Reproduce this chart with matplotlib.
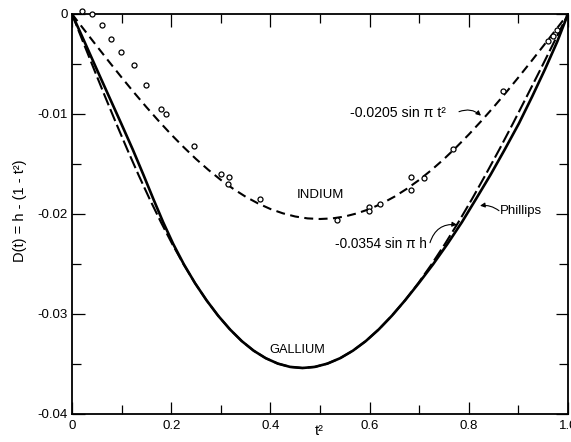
import matplotlib
matplotlib.use('Agg')
import matplotlib.pyplot as plt
from matplotlib.ticker import FixedLocator, FixedFormatter, MultipleLocator

plt.rcParams['font.family'] = ['Liberation Sans', 'DejaVu Sans']
plt.rcParams['axes.unicode_minus'] = False

# ---- data ----
# Indium measured points
ind_pts_x = [0.021, 0.040, 0.060, 0.079, 0.099, 0.124, 0.149, 0.179, 0.189, 0.245,
             0.300, 0.316, 0.315, 0.380, 0.535, 0.599, 0.599, 0.620, 0.683, 0.683,
             0.710, 0.769, 0.869, 0.960, 0.969, 0.978]
ind_pts_y = [0.0003, 0.0000, -0.00107, -0.0025, -0.00384, -0.00507, -0.00707, -0.0095, -0.00997, -0.01324,
             -0.0160, -0.01627, -0.01704, -0.0185, -0.02057, -0.0193, -0.0197, -0.0190, -0.01634, -0.0176,
             -0.0164, -0.0135, -0.00767, -0.00266, -0.0022, -0.0016]

# Indium dashed curve (-0.0205 sin pi t^2)
ind_curve_x = [0.0, 0.025, 0.05, 0.075, 0.1, 0.125, 0.15, 0.175, 0.2, 0.225,
               0.25, 0.275, 0.3, 0.325, 0.35, 0.375, 0.4, 0.425, 0.45, 0.475,
               0.5, 0.525, 0.55, 0.575, 0.6, 0.625, 0.65, 0.675, 0.7, 0.725,
               0.75, 0.775, 0.8, 0.825, 0.85, 0.875, 0.9, 0.925, 0.95, 0.975, 1.0]
ind_curve_y = [0.0, -0.00161, -0.00321, -0.00479, -0.00634, -0.00785, -0.00931, -0.01071, -0.01205, -0.01331,
               -0.01450, -0.01559, -0.01659, -0.01748, -0.01827, -0.01894, -0.01950, -0.01993, -0.02025, -0.02044,
               -0.02050, -0.02044, -0.02025, -0.01993, -0.01950, -0.01894, -0.01827, -0.01748, -0.01659, -0.01559,
               -0.01450, -0.01331, -0.01205, -0.01071, -0.00931, -0.00785, -0.00634, -0.00479, -0.00321, -0.00161, 0.0]

# Gallium curves: D values shared, x for dashed (-0.0354 sin pi h) and solid (Phillips)
gal_D = [0.0, -0.00278, -0.00554, -0.00826, -0.01094, -0.01355, -0.01607, -0.01850, -0.02081, -0.02299,
         -0.02503, -0.02692, -0.02864, -0.03018, -0.03154, -0.03271, -0.03367, -0.03442, -0.03496, -0.03529,
         -0.03540, -0.03529, -0.03496, -0.03442, -0.03367, -0.03271, -0.03154, -0.03018, -0.02864, -0.02692,
         -0.02503, -0.02299, -0.02081, -0.01850, -0.01607, -0.01355, -0.01094, -0.00826, -0.00554, -0.00278, 0.0]
gal_dash_x = [0.0, 0.0222, 0.0445, 0.0667, 0.0891, 0.1115, 0.1339, 0.1565, 0.1792, 0.2020,
              0.2250, 0.2481, 0.2714, 0.2948, 0.3185, 0.3423, 0.3663, 0.3906, 0.4150, 0.4397,
              0.4646, 0.4897, 0.5150, 0.5406, 0.5663, 0.5923, 0.6185, 0.6448, 0.6714, 0.6981,
              0.7250, 0.7520, 0.7792, 0.8065, 0.8339, 0.8615, 0.8891, 0.9167, 0.9445, 0.9722, 1.0]
gal_solid_x = [0.0, 0.0252, 0.0500, 0.0747, 0.0991, 0.1225, 0.1439, 0.1640, 0.1837, 0.2040,
               0.2255, 0.2481, 0.2714, 0.2948, 0.3185, 0.3423, 0.3663, 0.3906, 0.4150, 0.4397,
               0.4646, 0.4897, 0.5150, 0.5406, 0.5663, 0.5923, 0.6185, 0.6448, 0.6714, 0.6991,
               0.7280, 0.7570, 0.7862, 0.8145, 0.8439, 0.8725, 0.9011, 0.9277, 0.9535, 0.9782, 1.0]

x_ticks = [0.0, 0.2, 0.4, 0.6, 0.8, 1.0]
x_tick_labels = ['0', '0.2', '0.4', '0.6', '0.8', '1.0']
y_ticks = [-0.04, -0.03, -0.02, -0.01, 0.0]
y_tick_labels = ['-0.04', '-0.03', '-0.02', '-0.01', '0']

# ---- figure ----
W, H = 571, 442
fig = plt.figure(figsize=(W / 100, H / 100), dpi=100)
ax = fig.add_axes([72 / W, (H - 414) / H, 496 / W, 400 / H])

ax.plot(gal_dash_x, gal_D, color='black', lw=1.5, linestyle=(0, (6.2, 2.0)), zorder=2)
ax.plot(gal_solid_x, gal_D, color='black', lw=1.9, zorder=3)
ax.plot(ind_curve_x, ind_curve_y, color='black', lw=1.5, linestyle=(0, (4.3, 2.6)), zorder=2)
ax.plot(ind_pts_x, ind_pts_y, linestyle='none', marker='o', markersize=3.6,
        markerfacecolor='white', markeredgecolor='black', markeredgewidth=0.9,
        clip_on=False, zorder=4)

ax.set_xlim(0, 1)
ax.set_ylim(-0.04, 0)

ax.xaxis.set_major_locator(FixedLocator(x_ticks))
ax.xaxis.set_major_formatter(FixedFormatter(x_tick_labels))
ax.xaxis.set_minor_locator(MultipleLocator(0.1))
ax.yaxis.set_major_locator(FixedLocator(y_ticks))
ax.yaxis.set_major_formatter(FixedFormatter(y_tick_labels))
ax.yaxis.set_minor_locator(MultipleLocator(0.005))

ax.tick_params(which='both', direction='in', top=True, right=True, width=0.9,
               labelsize=9.5, colors='black')
ax.tick_params(which='major', length=9)
ax.tick_params(which='minor', length=6.5)
ax.tick_params(axis='x', pad=4)
ax.tick_params(axis='y', pad=3)
for s in ax.spines.values():
    s.set_linewidth(1.3)

fig.text(20 / W, 1 - 211 / H, 'D(t) = h - (1 - t²)', rotation=90, ha='center', va='center', fontsize=10.5)
fig.text(319 / W, 1 - 431 / H, 't²', ha='center', va='center', fontsize=10.5)

def px(xp, yp):
    return ((xp - 72) / 496, -(yp - 14.3) / 10000)

ax.text(*px(320, 195), 'INDIUM', ha='center', va='center', fontsize=9.5)
ax.text(*px(297, 350), 'GALLIUM', ha='center', va='center', fontsize=9.2)

arrow_kw = dict(arrowstyle='-|>', color='black', lw=0.8, mutation_scale=7, shrinkA=0, shrinkB=0)

ax.text(*px(350, 113), '-0.0205 sin \u03c0 t²', ha='left', va='center', fontsize=10.2)
ax.annotate('', xy=px(481, 116), xytext=px(459, 112),
            arrowprops=dict(connectionstyle='arc3,rad=-0.3', **arrow_kw))

ax.text(*px(500, 211), 'Phillips', ha='left', va='center', fontsize=9.5)
ax.annotate('', xy=px(480, 206), xytext=px(499, 211),
            arrowprops=dict(connectionstyle='arc3,rad=0.2', **arrow_kw))

ax.text(*px(335, 244), '-0.0354 sin \u03c0 h', ha='left', va='center', fontsize=9.8)
ax.annotate('', xy=px(457, 225), xytext=px(430, 243),
            arrowprops=dict(connectionstyle='arc3,rad=-0.4', **arrow_kw))

fig.savefig('out.png', dpi=100)
